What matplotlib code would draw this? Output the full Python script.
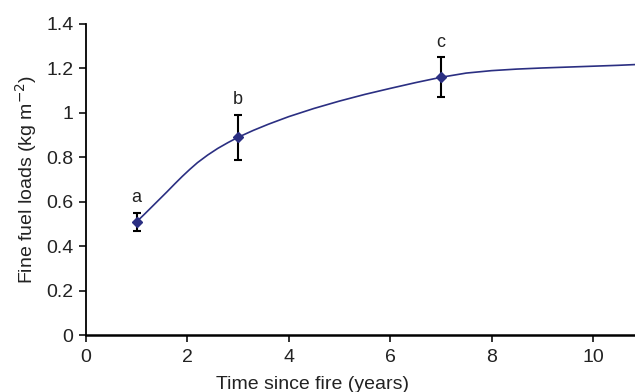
import matplotlib.pyplot as plt

plt.rcParams['font.family'] = ['Liberation Sans', 'DejaVu Sans']

# measured means (years since fire, kg m-2) with error bars and group letters
years = [1, 3, 7]
loads = [0.51, 0.89, 1.16]
errs = [0.04, 0.10, 0.09]
letters = ['a', 'b', 'c']

# fitted curve
curve_x = [1.0, 1.15, 1.3, 1.45, 1.6, 1.75, 1.9, 2.05, 2.2, 2.4, 2.6, 2.8, 3.0,
           3.3, 3.6, 4.0, 4.5, 5.0, 5.5, 6.0, 6.5, 7.0, 7.5, 8.0, 8.5, 9.0,
           9.5, 10.0, 10.5, 10.9]
curve_y = [0.51, 0.543, 0.577, 0.611, 0.645, 0.68, 0.714, 0.746, 0.776, 0.81,
           0.84, 0.866, 0.89, 0.921, 0.949, 0.983, 1.02, 1.053, 1.083, 1.11,
           1.136, 1.16, 1.179, 1.19, 1.197, 1.202, 1.206, 1.21, 1.214, 1.218]

navy = '#2b2f82'

fig = plt.figure(figsize=(6.35, 3.92), dpi=100)
ax = fig.add_axes([0.1354, 0.1454, 0.8646, 0.7934])

ax.plot(curve_x, curve_y, color=navy, lw=1.2, clip_on=False, zorder=2)
ax.errorbar(years, loads, yerr=errs, fmt='none', ecolor='black', elinewidth=1.5,
            capsize=3, capthick=1.5, zorder=3)
ax.plot(years, loads, 'D', color=navy, ms=5, zorder=4)

for x, y, e, s in zip(years, loads, errs, letters):
    ax.annotate(s, (x, y + e), xytext=(0, 11), textcoords='offset points',
                ha='center', va='center', fontsize=13, color='#222222')

ax.set_xlim(0, 10.83)
ax.set_ylim(0, 1.4)
ax.set_xticks([0, 2, 4, 6, 8, 10])
ax.set_yticks([0, 0.2, 0.4, 0.6, 0.8, 1.0, 1.2, 1.4])
ax.set_yticklabels(['0', '0.2', '0.4', '0.6', '0.8', '1', '1.2', '1.4'])

for side in ['top', 'right']:
    ax.spines[side].set_visible(False)
ax.spines['left'].set_linewidth(1.3)
ax.spines['bottom'].set_linewidth(1.8)
ax.tick_params(direction='out', length=5, width=1.3, labelsize=14,
               colors='#222222', pad=4)
ax.tick_params(axis='x', pad=5)

ax.set_xlabel('Time since fire (years)', fontsize=14, color='#222222')
ax.set_ylabel('Fine fuel loads (kg m$^{-2}$)', fontsize=14, color='#222222')
ax.xaxis.set_label_coords(0.413, -0.132)
ax.yaxis.set_label_coords(-0.086, 0.5)

fig.savefig('out.png', dpi=100)
